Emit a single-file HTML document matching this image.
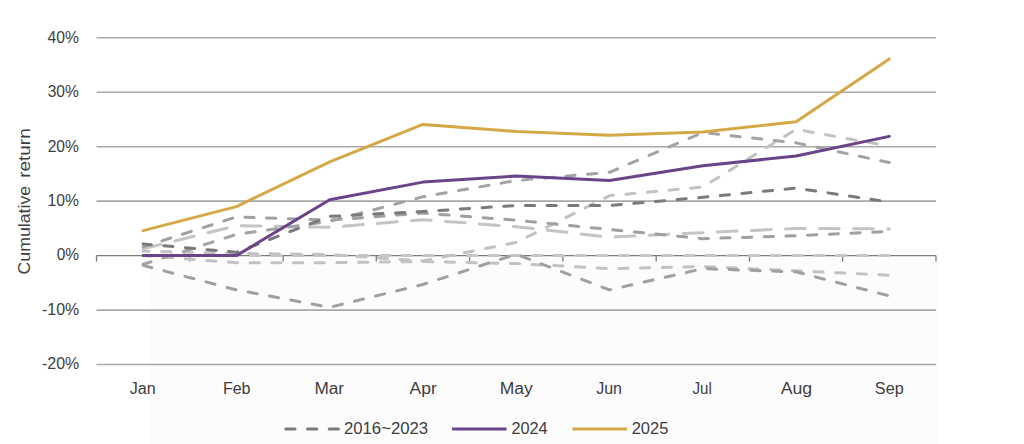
<!DOCTYPE html>
<html><head><meta charset="utf-8"><style>
html,body{margin:0;padding:0;background:#fff;}
body{width:1024px;height:444px;overflow:hidden;}
svg{display:block;}
text{font-family:"Liberation Sans",sans-serif;font-size:16px;fill:#3d3d3d;}
</style></head><body>
<svg width="1024" height="444" viewBox="0 0 1024 444">
<rect x="0" y="0" width="1024" height="444" fill="#ffffff"/>
<rect x="150" y="258" width="788" height="186" fill="#fcfcfd"/>
<line x1="96.5" x2="936" y1="37.8" y2="37.8" stroke="#a9a9a9" stroke-width="1.6"/>
<line x1="96.5" x2="936" y1="92.2" y2="92.2" stroke="#a9a9a9" stroke-width="1.6"/>
<line x1="96.5" x2="936" y1="146.7" y2="146.7" stroke="#a9a9a9" stroke-width="1.6"/>
<line x1="96.5" x2="936" y1="201.1" y2="201.1" stroke="#a9a9a9" stroke-width="1.6"/>
<line x1="96.5" x2="936" y1="310.1" y2="310.1" stroke="#a9a9a9" stroke-width="1.6"/>
<line x1="96.5" x2="936" y1="364.5" y2="364.5" stroke="#a9a9a9" stroke-width="1.6"/>
<line x1="96.5" x2="936" y1="255.6" y2="255.6" stroke="#7a7a7a" stroke-width="1.3"/>
<line x1="96.5" x2="96.5" y1="255.6" y2="261.6" stroke="#7a7a7a" stroke-width="1.3"/>
<line x1="189.8" x2="189.8" y1="255.6" y2="261.6" stroke="#7a7a7a" stroke-width="1.3"/>
<line x1="283.1" x2="283.1" y1="255.6" y2="261.6" stroke="#7a7a7a" stroke-width="1.3"/>
<line x1="376.3" x2="376.3" y1="255.6" y2="261.6" stroke="#7a7a7a" stroke-width="1.3"/>
<line x1="469.6" x2="469.6" y1="255.6" y2="261.6" stroke="#7a7a7a" stroke-width="1.3"/>
<line x1="562.9" x2="562.9" y1="255.6" y2="261.6" stroke="#7a7a7a" stroke-width="1.3"/>
<line x1="656.2" x2="656.2" y1="255.6" y2="261.6" stroke="#7a7a7a" stroke-width="1.3"/>
<line x1="749.5" x2="749.5" y1="255.6" y2="261.6" stroke="#7a7a7a" stroke-width="1.3"/>
<line x1="842.7" x2="842.7" y1="255.6" y2="261.6" stroke="#7a7a7a" stroke-width="1.3"/>
<line x1="936.0" x2="936.0" y1="255.6" y2="261.6" stroke="#7a7a7a" stroke-width="1.3"/>
<polyline points="143.1,255.6 236.4,255.6 329.7,255.6 422.9,255.6 516.2,255.6 609.5,255.6 702.8,255.6 796.1,255.6 889.3,255.6" fill="none" stroke="#c6c6c8" stroke-width="3" stroke-dasharray="9.2 12.5" stroke-dashoffset="1.20" stroke-linecap="round" stroke-linejoin="round"/>
<polyline points="143.1,255.6 236.4,262.7 329.7,262.7 422.9,261.6 516.2,263.5 609.5,268.7 702.8,266.5 796.1,270.8 889.3,275.2" fill="none" stroke="#c2c2c4" stroke-width="3" stroke-dasharray="9.2 12.5" stroke-dashoffset="1.26" stroke-linecap="round" stroke-linejoin="round"/>
<polyline points="143.1,251.2 236.4,253.4 329.7,254.5 422.9,261.0 516.2,242.5 609.5,195.7 702.8,187.0 796.1,129.3 889.3,146.2" fill="none" stroke="#c2c2c4" stroke-width="3" stroke-dasharray="9.2 12.5" stroke-dashoffset="3.20" stroke-linecap="round" stroke-linejoin="round"/>
<polyline points="143.1,248.8 236.4,225.7 329.7,227.3 422.9,219.7 516.2,226.7 609.5,237.1 702.8,232.7 796.1,228.4 889.3,228.9" fill="none" stroke="#c4c4c6" stroke-width="3" stroke-dasharray="19.8 14.3" stroke-dashoffset="1.40" stroke-linecap="round" stroke-linejoin="round"/>
<polyline points="143.1,265.4 236.4,289.9 329.7,307.3 422.9,284.5 516.2,254.2 609.5,289.9 702.8,268.7 796.1,271.9 889.3,295.9" fill="none" stroke="#a0a0a3" stroke-width="3" stroke-dasharray="9.2 12.5" stroke-dashoffset="0.08" stroke-linecap="round" stroke-linejoin="round"/>
<polyline points="143.1,246.9 236.4,216.9 329.7,220.2 422.9,213.1 516.2,220.2 609.5,229.5 702.8,238.7 796.1,235.7 889.3,231.4" fill="none" stroke="#a0a0a3" stroke-width="3" stroke-dasharray="9.2 12.5" stroke-dashoffset="1.94" stroke-linecap="round" stroke-linejoin="round"/>
<polyline points="143.1,264.3 236.4,234.4 329.7,221.3 422.9,196.8 516.2,180.5 609.5,172.3 702.8,132.5 796.1,142.9 889.3,162.5" fill="none" stroke="#a3a3a6" stroke-width="3" stroke-dasharray="9.2 12.5" stroke-dashoffset="0.85" stroke-linecap="round" stroke-linejoin="round"/>
<polyline points="143.1,243.9 236.4,252.3 329.7,216.4 422.9,211.5 516.2,205.5 609.5,205.5 702.8,197.3 796.1,188.1 889.3,202.0" fill="none" stroke="#7a7a7e" stroke-width="3" stroke-dasharray="9.2 12.5" stroke-dashoffset="0.92" stroke-linecap="round" stroke-linejoin="round"/>
<polyline points="143.1,255.6 236.4,255.6 329.7,199.8 422.9,182.1 516.2,176.1 609.5,180.5 702.8,165.8 796.1,156.0 889.3,136.4" fill="none" stroke="#6a4389" stroke-width="3" stroke-linecap="round" stroke-linejoin="round"/>
<polyline points="143.1,230.6 236.4,206.6 329.7,161.9 422.9,124.4 516.2,131.5 609.5,135.3 702.8,132.0 796.1,121.7 889.3,59.0" fill="none" stroke="#d5a846" stroke-width="3" stroke-linecap="round" stroke-linejoin="round"/>
<text x="47.60" y="42.60" textLength="31.33" lengthAdjust="spacingAndGlyphs">40%</text>
<text x="47.70" y="97.05" textLength="31.23" lengthAdjust="spacingAndGlyphs">30%</text>
<text x="47.70" y="151.50" textLength="31.23" lengthAdjust="spacingAndGlyphs">20%</text>
<text x="47.52" y="205.95" textLength="31.41" lengthAdjust="spacingAndGlyphs">10%</text>
<text x="56.70" y="260.40" textLength="22.32" lengthAdjust="spacingAndGlyphs">0%</text>
<text x="42.00" y="314.85" textLength="37.26" lengthAdjust="spacingAndGlyphs">-10%</text>
<text x="42.00" y="369.30" textLength="37.26" lengthAdjust="spacingAndGlyphs">-20%</text>
<text x="129.80" y="393.60" textLength="26.00" lengthAdjust="spacingAndGlyphs">Jan</text>
<text x="222.90" y="393.60" textLength="27.58" lengthAdjust="spacingAndGlyphs">Feb</text>
<text x="314.42" y="393.60" textLength="29.71" lengthAdjust="spacingAndGlyphs">Mar</text>
<text x="409.60" y="393.60" textLength="27.20" lengthAdjust="spacingAndGlyphs">Apr</text>
<text x="499.81" y="393.60" textLength="33.05" lengthAdjust="spacingAndGlyphs">May</text>
<text x="596.20" y="393.60" textLength="25.80" lengthAdjust="spacingAndGlyphs">Jun</text>
<text x="692.50" y="393.60" textLength="19.33" lengthAdjust="spacingAndGlyphs">Jul</text>
<text x="780.70" y="393.60" textLength="31.42" lengthAdjust="spacingAndGlyphs">Aug</text>
<text x="874.89" y="393.60" textLength="28.79" lengthAdjust="spacingAndGlyphs">Sep</text>
<text x="343.90" y="434.20" textLength="84.26" lengthAdjust="spacingAndGlyphs">2016~2023</text>
<text x="511.40" y="434.20" textLength="36.19" lengthAdjust="spacingAndGlyphs">2024</text>
<text x="631.70" y="434.20" textLength="36.71" lengthAdjust="spacingAndGlyphs">2025</text>
<text transform="translate(30.2,274.41) rotate(-90)" x="0" y="0" textLength="88.54" lengthAdjust="spacingAndGlyphs">Cumulative</text>
<text transform="translate(30.2,177.78) rotate(-90)" x="0" y="0" textLength="49.48" lengthAdjust="spacingAndGlyphs">return</text>

<line x1="285.8" x2="340" y1="429.1" y2="429.1" stroke="#7a7a7e" stroke-width="3" stroke-dasharray="9.2 12.5" stroke-linecap="round"/>
<line x1="452" x2="506.5" y1="429" y2="429" stroke="#6a4389" stroke-width="3"/>
<line x1="572.5" x2="627" y1="429" y2="429" stroke="#d5a846" stroke-width="3"/>

</svg>
</body></html>
